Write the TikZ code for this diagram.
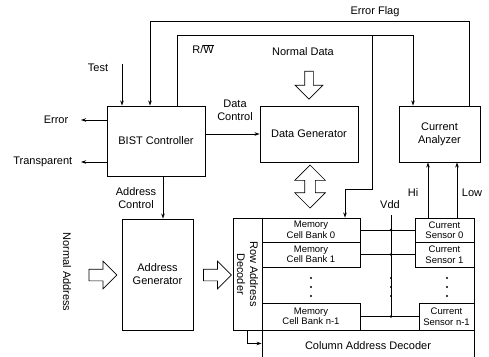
\documentclass[tikz,border=0pt]{standalone}
\usepackage{fontspec}
\setmainfont{Liberation Sans}
\usetikzlibrary{arrows.meta,positioning,shapes.arrows}

\begin{document}
\begin{tikzpicture}[x=1pt,y=-1pt,>={Stealth[length=5pt,width=3.5pt]},line width=0.8pt,
  every node/.style={font=\fontsize{11}{13}\selectfont},
  blk/.style={draw,line width=0.9pt,inner sep=1pt,align=center},
  cell/.style={draw,line width=0.9pt,inner sep=0pt,align=center,font=\fontsize{9.5}{10.5}\selectfont},
  harrow/.style={single arrow,draw,line width=0.7pt,inner sep=5.5pt,single arrow head extend=8pt,minimum height=28pt},
  darrow/.style={double arrow,draw,line width=0.7pt,inner sep=5pt,double arrow head extend=10pt,minimum height=43pt}]
\useasboundingbox (0,0) rectangle (489,356);
% blocks
\node (bist) [blk,minimum width=98pt,minimum height=70pt] at (156,141) {BIST Controller};
\node (dgen) [blk,minimum width=98pt,minimum height=56pt] at (309,134) {Data Generator};
\node (cana) [blk,minimum width=81pt,minimum height=56pt] at (439.5,134) {Current\\Analyzer};
\node (agen) [blk,minimum width=71pt,minimum height=111pt] at (157.5,274.5) {Address\\Generator};
\node (rdec) [blk,minimum width=29pt,minimum height=112pt] at (247.5,274) {};
\node (rdectxt) [rotate=-90,align=center] at (rdec) {Row Address\\Decoder};
\node (bank0) [cell,minimum width=98pt,minimum height=24pt] at (311,230) {Memory\\Cell Bank 0};
\node (bank1) [cell,minimum width=98pt,minimum height=25pt] at (311,254.5) {Memory\\Cell Bank 1};
\node (bankn) [cell,minimum width=98pt,minimum height=27pt] at (311,316.5) {Memory\\Cell Bank n-1};
\node (sens0) [cell,minimum width=59pt,minimum height=24pt] at (444.5,230) {Current\\Sensor 0};
\node (sens1) [cell,minimum width=59pt,minimum height=25pt] at (444.5,254.5) {Current\\Sensor 1};
\node (sensn) [cell,minimum width=55pt,minimum height=27pt] at (446.5,316.5) {Current\\Sensor n-1};
\node (cdec) [blk,minimum width=212pt,minimum height=30pt,anchor=north] at (368,330) {Column Address Decoder};
\draw[line width=0.9pt] (sens1.south east) -- (sensn.north east);
% wide arrows
\node (ndarr) [harrow,shape border rotate=270,inner sep=4pt,single arrow head extend=9.5pt,minimum width=27pt] at (309,83) {};
\node (dbus) [darrow,shape border rotate=90] at (310,186.5) {};
\node (naarr) [harrow] at (100,275) {};
\node (agarr) [harrow] at (214.5,275) {};
% labels
\node (ltest) at (98,68) {Test};
\node (lef) at (375,12) {Error Flag};
\node (lrw) at (203,49) {R/$\overline{\mbox{W}}$};
\node (lnd) at (303,52) {Normal Data};
\node (ldc) [align=center] at (235,110) {Data\\Control};
\node (lac) [align=center] at (136,198) {Address\\Control};
\node (lna) [rotate=-90] at (67,272) {Normal Address};
\node (lhi) at (413,193) {Hi};
\node (llow) at (472,193) {Low};
\node (lvdd) at (390,205) {Vdd};
% control lines
\coordinate (tin) at (122,64);
\draw[->] (tin) -- (tin |- bist.north);
\draw[->] ([xshift=29.5pt]cana.north) -- ++(0,-84) -| ([xshift=-6pt]bist.north);
\draw[->] ([xshift=21pt]bist.north) -- ++(0,-70) -| ([xshift=-26.5pt]cana.north);
\coordinate (rwj) at (372,36);
\draw[->] (rwj) -- (372,189) -| ([xshift=34pt]bank0.north);
\draw[->] (bist.east |- dgen.west) -- (dgen.west);
\coordinate (ac) at (163,176);
\draw[->] (ac) -- (ac |- agen.north);
\coordinate (errout) at (81,120);
\coordinate (trout) at (81,162);
\draw[->] (errout -| bist.west) -- (errout);
\draw[->] (trout -| bist.west) -- (trout);
\node (lerr) [left=9pt of errout] {Error};
\node (ltr) [left=5pt of trout] {Transparent};
\coordinate (hi) at (428,190);
\coordinate (low) at (457,190);
\draw[->] (hi |- sens0.north) -- (hi |- cana.south);
\draw[->] (low |- sens0.north) -- (low |- cana.south);
\draw[->] (rdec.south) |- ([yshift=2pt]cdec.west);
% Vdd rail
\coordinate (vdd) at (391,215);
\draw (vdd) -- (vdd |- bankn.east);
\draw (bank0.east) -- (sens0.west);
\draw (bank1.east) -- (sens1.west);
\draw (bankn.east) -- (sensn.west);
\foreach \r in {bank0,bank1,bankn} \fill (vdd |- \r.east) circle (1.3pt);
\foreach \y in {278,287,296} {
  \fill (311,\y) circle (1.2pt);
  \fill (391,\y) circle (1.2pt);
  \fill (447,\y) circle (1.2pt);
}
\end{tikzpicture}
\end{document}
